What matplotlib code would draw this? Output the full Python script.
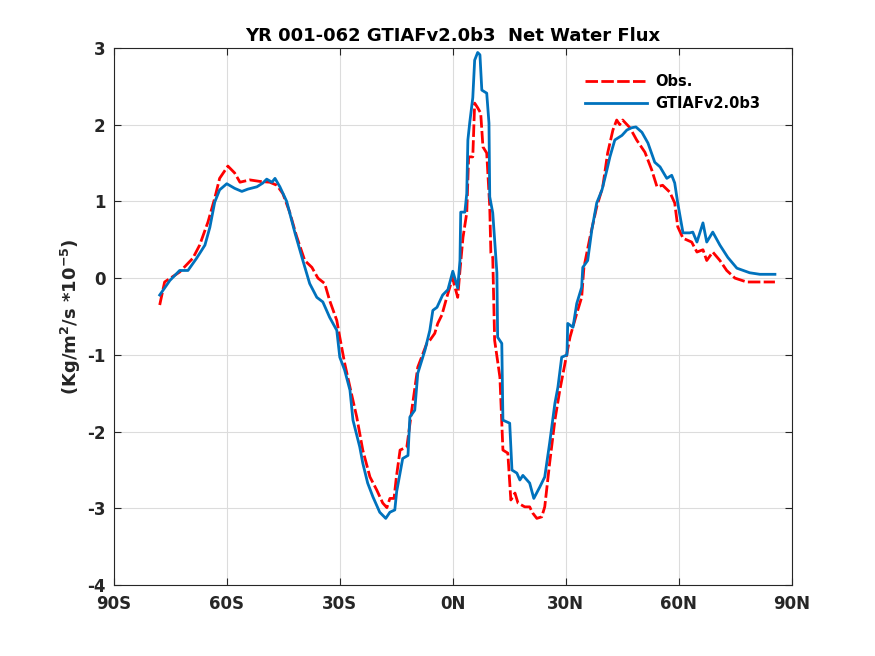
import numpy as np
import matplotlib
matplotlib.use('Agg')
import matplotlib.pyplot as plt

plt.rcParams['font.family'] = ['DejaVu Sans']
plt.rcParams['font.weight'] = 'bold'
plt.rcParams['axes.unicode_minus'] = False

# 观测值 (Obs.)
obs_lat = [-77.8, -76.5, -72.5, -69.0, -67.2, -65.0, -63.2, -61.9, -59.7, -57.9,
           -56.5, -53.9, -51.2, -48.6, -46.7, -45.1, -43.3, -41.5, -39.3, -37.4,
           -35.8, -34.0, -32.7, -30.8, -30.0, -28.7, -27.3, -25.5, -23.9, -22.0,
           -20.2, -18.6, -17.5, -16.7, -15.6, -15.0, -14.0, -12.2, -10.9, -9.3,
           -6.9, -6.1, -4.8, -4.0, -2.9, -1.6, 0.0, 0.3, 1.3, 1.9, 2.7, 3.7, 4.2,
           5.3, 5.8, 6.6, 7.4, 8.0, 9.0, 9.8, 10.1, 10.6, 11.1, 12.5, 13.3, 14.6,
           15.4, 16.5, 17.3, 19.1, 20.4, 21.2, 22.3, 23.6, 24.4, 25.7, 27.1, 28.4,
           29.7, 31.1, 32.9, 34.2, 34.8, 36.4, 38.2, 39.8, 41.1, 42.5, 43.5, 44.3,
           45.1, 47.0, 48.8, 51.0, 52.8, 54.2, 55.7, 57.6, 58.9, 59.7, 61.1, 63.4,
           64.8, 66.4, 67.4, 69.0, 70.9, 72.7, 74.9, 78.0, 81.5, 85.5]
obs_val = [-0.35, -0.05, 0.08, 0.26, 0.43, 0.73, 1.04, 1.30, 1.46, 1.37,
           1.25, 1.28, 1.26, 1.25, 1.21, 1.10, 0.86, 0.55, 0.23, 0.14,
           0.00, -0.07, -0.29, -0.55, -0.77, -1.11, -1.42, -1.81, -2.24, -2.59,
           -2.76, -2.93, -2.99, -2.87, -2.87, -2.60, -2.24, -2.20, -1.72, -1.16,
           -0.85, -0.81, -0.72, -0.59, -0.48, -0.25, 0.01, -0.07, -0.25, 0.10, 0.53, 0.85, 1.58,
           1.58, 2.28, 2.22, 2.15, 1.71, 1.63, 0.93, 0.33, 0.27, -0.81, -1.29, -2.24, -2.28,
           -2.89, -2.80, -2.93, -2.98, -2.98, -3.06, -3.13, -3.11, -2.98, -2.41, -1.85, -1.46,
           -1.13, -0.77, -0.46, -0.25, 0.14, 0.53, 0.93, 1.19, 1.63, 1.93, 2.06, 2.00,
           2.06, 1.96, 1.80, 1.64, 1.41, 1.19, 1.21, 1.12, 0.98, 0.67, 0.52, 0.47,
           0.34, 0.37, 0.23, 0.34, 0.23, 0.10, 0.00, -0.05, -0.05, -0.05]

# 模式结果 (GTIAFv2.0b3)
mod_lat = [-77.8, -75.1, -72.5, -70.3, -68.0, -65.8, -64.5, -63.2, -61.9, -60.0,
           -57.9, -56.0, -54.4, -52.0, -50.4, -49.4, -48.0, -47.2, -45.9, -44.1,
           -41.9, -39.8, -38.0, -36.1, -34.5, -32.7, -30.8, -30.0, -28.7, -27.3,
           -26.5, -24.7, -23.9, -22.6, -21.2, -19.4, -17.8, -16.7, -15.4, -14.9,
           -13.3, -11.9, -11.4, -10.1, -9.3, -7.4, -6.1, -5.3, -4.2, -2.7, -1.3,
           0.0, 1.3, 1.9, 2.1, 3.2, 3.7, 4.0, 4.5, 5.3, 5.8, 6.6, 7.2, 7.7, 9.0,
           9.6, 9.8, 10.6, 11.1, 11.7, 11.9, 13.0, 13.3, 15.1, 15.7, 17.0, 17.8,
           18.6, 20.4, 21.5, 23.1, 24.4, 25.7, 27.1, 27.9, 28.9, 30.3, 30.5, 31.9,
           32.9, 34.2, 34.5, 35.8, 36.9, 38.2, 39.6, 40.9, 41.7, 43.0, 44.9, 46.2,
           47.5, 48.6, 50.2, 51.8, 53.6, 55.0, 56.8, 58.1, 58.9, 59.7, 61.1, 62.9,
           63.7, 64.8, 66.4, 67.4, 69.0, 70.9, 73.0, 75.4, 78.8, 81.5, 85.5]
mod_val = [-0.22, -0.03, 0.10, 0.10, 0.26, 0.43, 0.66, 0.99, 1.15, 1.23,
           1.17, 1.13, 1.16, 1.19, 1.24, 1.29, 1.25, 1.30, 1.19, 1.00,
           0.59, 0.23, -0.07, -0.25, -0.31, -0.51, -0.68, -1.03, -1.20, -1.46,
           -1.85, -2.20, -2.41, -2.67, -2.85, -3.05, -3.13, -3.05, -3.02, -2.78,
           -2.35, -2.31, -1.81, -1.72, -1.24, -0.94, -0.68, -0.42, -0.38, -0.22, -0.15,
           0.09, -0.13, 0.23, 0.86, 0.86, 1.10, 1.80, 2.03, 2.35, 2.84, 2.94, 2.91, 2.45, 2.41,
           2.02, 1.06, 0.85, 0.50, 0.07, -0.77, -0.85, -1.85, -1.89, -2.50, -2.54, -2.63,
           -2.57, -2.67, -2.87, -2.72, -2.59, -2.15, -1.63, -1.42, -1.03, -1.00, -0.59, -0.64,
           -0.33, -0.12, 0.14, 0.23, 0.63, 0.98, 1.15, 1.41, 1.58, 1.80, 1.86, 1.93,
           1.96, 1.97, 1.90, 1.76, 1.51, 1.45, 1.30, 1.34, 1.24, 0.98, 0.59, 0.59,
           0.60, 0.47, 0.72, 0.47, 0.60, 0.43, 0.27, 0.13, 0.07, 0.05, 0.05]

xticks = [-90, -60, -30, 0, 30, 60, 90]
xticklabels = ['90S', '60S', '30S', '0N', '30N', '60N', '90N']
yticks = [-4, -3, -2, -1, 0, 1, 2, 3]

fig = plt.figure(figsize=(8.75, 6.56), dpi=100)
ax = fig.add_axes([0.13, 0.108, 0.775, 0.819])

ax.plot(obs_lat, obs_val, color='red', linewidth=2, dashes=(4.5, 1.2), label='Obs.')
ax.plot(mod_lat, mod_val, color='#0072BD', linewidth=2, label='GTIAFv2.0b3')

ax.set_xlim(-90, 90)
ax.set_ylim(-4, 3)
ax.set_xticks(xticks)
ax.set_xticklabels(xticklabels)
ax.set_yticks(yticks)
ax.grid(True, color='#dcdcdc', linewidth=0.8)
ax.set_axisbelow(True)
ax.tick_params(direction='in', top=True, right=True, length=5, labelsize=12,
               width=0.8, labelcolor='#262626', color='#262626')
ax.tick_params(axis='x', pad=7)
ax.tick_params(axis='y', pad=6)
for s in ax.spines.values():
    s.set_linewidth(0.8)
    s.set_color('#262626')

ax.set_title('YR 001-062 GTIAFv2.0b3  Net Water Flux', fontsize=13, fontweight='bold', pad=5)
ax.set_ylabel('(Kg/m$^2$/s *10$^{-5}$)', fontsize=13, fontweight='bold',
              color='#262626', labelpad=3)
ax.legend(loc='upper right', frameon=False, fontsize=10.5, handlelength=4.3,
          handletextpad=0.5, labelspacing=0.45, bbox_to_anchor=(0.972, 0.975))

fig.savefig('out.png', dpi=100)
